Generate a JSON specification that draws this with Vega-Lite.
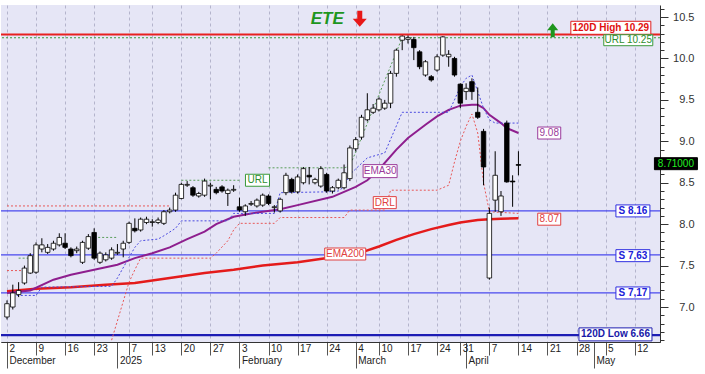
{
"$schema":"https://vega.github.io/schema/vega-lite/v6.json",
"width":659,"height":337,
"autosize":{"type":"none"},
"padding":{"left":1,"top":5,"right":45,"bottom":32},
"background":"#ffffff",
"config":{"view":{"stroke":null,"fill":"#E6E6F6"},"font":"Liberation Sans"},
"datasets":{
"candles":[
{"d":"2024-12-02","i":0,"o":6.88,"h":7.08,"l":6.85,"c":7.04},
{"d":"2024-12-03","i":1,"o":7.00,"h":7.27,"l":6.97,"c":7.17},
{"d":"2024-12-04","i":2,"o":7.15,"h":7.30,"l":7.12,"c":7.20},
{"d":"2024-12-05","i":3,"o":7.29,"h":7.50,"l":7.27,"c":7.47},
{"d":"2024-12-06","i":4,"o":7.41,"h":7.65,"l":7.40,"c":7.62},
{"d":"2024-12-09","i":5,"o":7.42,"h":7.78,"l":7.40,"c":7.75},
{"d":"2024-12-10","i":6,"o":7.70,"h":7.83,"l":7.66,"c":7.75},
{"d":"2024-12-11","i":7,"o":7.66,"h":7.76,"l":7.64,"c":7.72},
{"d":"2024-12-12","i":8,"o":7.70,"h":7.80,"l":7.68,"c":7.77},
{"d":"2024-12-13","i":9,"o":7.75,"h":7.89,"l":7.73,"c":7.84},
{"d":"2024-12-16","i":10,"o":7.77,"h":7.89,"l":7.70,"c":7.72},
{"d":"2024-12-17","i":11,"o":7.70,"h":7.72,"l":7.60,"c":7.62},
{"d":"2024-12-18","i":12,"o":7.68,"h":7.73,"l":7.65,"c":7.70},
{"d":"2024-12-19","i":13,"o":7.54,"h":7.80,"l":7.52,"c":7.78},
{"d":"2024-12-20","i":14,"o":7.71,"h":7.88,"l":7.69,"c":7.85},
{"d":"2024-12-23","i":15,"o":7.90,"h":7.95,"l":7.57,"c":7.59},
{"d":"2024-12-24","i":16,"o":7.54,"h":7.67,"l":7.52,"c":7.65},
{"d":"2024-12-27","i":17,"o":7.57,"h":7.66,"l":7.55,"c":7.63},
{"d":"2024-12-30","i":18,"o":7.59,"h":7.72,"l":7.57,"c":7.69},
{"d":"2025-01-02","i":19,"o":7.65,"h":7.76,"l":7.63,"c":7.66},
{"d":"2025-01-03","i":20,"o":7.70,"h":7.80,"l":7.60,"c":7.77},
{"d":"2025-01-07","i":21,"o":7.78,"h":8.03,"l":7.76,"c":8.01},
{"d":"2025-01-08","i":22,"o":7.95,"h":8.07,"l":7.90,"c":7.92},
{"d":"2025-01-09","i":23,"o":7.93,"h":8.08,"l":7.91,"c":8.06},
{"d":"2025-01-10","i":24,"o":8.02,"h":8.09,"l":8.00,"c":8.06},
{"d":"2025-01-13","i":25,"o":8.02,"h":8.06,"l":7.97,"c":8.03},
{"d":"2025-01-14","i":26,"o":8.02,"h":8.08,"l":8.00,"c":8.05},
{"d":"2025-01-15","i":27,"o":8.01,"h":8.17,"l":7.99,"c":8.15},
{"d":"2025-01-16","i":28,"o":8.15,"h":8.20,"l":8.13,"c":8.17},
{"d":"2025-01-17","i":29,"o":8.17,"h":8.38,"l":8.15,"c":8.35},
{"d":"2025-01-20","i":30,"o":8.31,"h":8.50,"l":8.30,"c":8.48},
{"d":"2025-01-21","i":31,"o":8.47,"h":8.52,"l":8.45,"c":8.48},
{"d":"2025-01-22","i":32,"o":8.44,"h":8.46,"l":8.33,"c":8.35},
{"d":"2025-01-23","i":33,"o":8.34,"h":8.39,"l":8.32,"c":8.37},
{"d":"2025-01-24","i":34,"o":8.35,"h":8.55,"l":8.33,"c":8.52},
{"d":"2025-01-27","i":35,"o":8.46,"h":8.50,"l":8.30,"c":8.47},
{"d":"2025-01-28","i":36,"o":8.42,"h":8.45,"l":8.36,"c":8.38},
{"d":"2025-01-29","i":37,"o":8.45,"h":8.47,"l":8.38,"c":8.40},
{"d":"2025-01-30","i":38,"o":8.37,"h":8.43,"l":8.22,"c":8.41},
{"d":"2025-01-31","i":39,"o":8.41,"h":8.47,"l":8.39,"c":8.42},
{"d":"2025-02-03","i":40,"o":8.21,"h":8.32,"l":8.15,"c":8.17},
{"d":"2025-02-04","i":41,"o":8.15,"h":8.24,"l":8.10,"c":8.22},
{"d":"2025-02-05","i":42,"o":8.24,"h":8.28,"l":8.22,"c":8.25},
{"d":"2025-02-06","i":43,"o":8.22,"h":8.31,"l":8.20,"c":8.29},
{"d":"2025-02-07","i":44,"o":8.23,"h":8.37,"l":8.21,"c":8.35},
{"d":"2025-02-10","i":45,"o":8.34,"h":8.36,"l":8.23,"c":8.25},
{"d":"2025-02-11","i":46,"o":8.20,"h":8.23,"l":8.14,"c":8.21},
{"d":"2025-02-12","i":47,"o":8.16,"h":8.32,"l":8.14,"c":8.30},
{"d":"2025-02-13","i":48,"o":8.38,"h":8.62,"l":8.35,"c":8.59},
{"d":"2025-02-14","i":49,"o":8.54,"h":8.56,"l":8.37,"c":8.39},
{"d":"2025-02-17","i":50,"o":8.39,"h":8.60,"l":8.37,"c":8.57},
{"d":"2025-02-18","i":51,"o":8.50,"h":8.69,"l":8.48,"c":8.67},
{"d":"2025-02-19","i":52,"o":8.59,"h":8.69,"l":8.48,"c":8.57},
{"d":"2025-02-20","i":53,"o":8.50,"h":8.56,"l":8.48,"c":8.54},
{"d":"2025-02-21","i":54,"o":8.46,"h":8.70,"l":8.44,"c":8.67},
{"d":"2025-02-24","i":55,"o":8.60,"h":8.62,"l":8.38,"c":8.40},
{"d":"2025-02-25","i":56,"o":8.40,"h":8.46,"l":8.37,"c":8.44},
{"d":"2025-02-26","i":57,"o":8.44,"h":8.55,"l":8.42,"c":8.53},
{"d":"2025-02-27","i":58,"o":8.44,"h":8.72,"l":8.42,"c":8.62},
{"d":"2025-02-28","i":59,"o":8.55,"h":8.95,"l":8.52,"c":8.92},
{"d":"2025-03-04","i":60,"o":8.91,"h":9.05,"l":8.88,"c":9.02},
{"d":"2025-03-05","i":61,"o":9.05,"h":9.32,"l":9.02,"c":9.29},
{"d":"2025-03-06","i":62,"o":9.26,"h":9.58,"l":9.24,"c":9.38},
{"d":"2025-03-07","i":63,"o":9.35,"h":9.45,"l":9.33,"c":9.40},
{"d":"2025-03-10","i":64,"o":9.38,"h":9.53,"l":9.36,"c":9.51},
{"d":"2025-03-11","i":65,"o":9.40,"h":9.50,"l":9.38,"c":9.46},
{"d":"2025-03-12","i":66,"o":9.46,"h":9.85,"l":9.40,"c":9.82},
{"d":"2025-03-13","i":67,"o":9.82,"h":10.12,"l":9.78,"c":10.10},
{"d":"2025-03-14","i":68,"o":10.22,"h":10.29,"l":10.10,"c":10.27},
{"d":"2025-03-17","i":69,"o":10.23,"h":10.28,"l":10.18,"c":10.25},
{"d":"2025-03-18","i":70,"o":10.23,"h":10.26,"l":9.98,"c":10.13},
{"d":"2025-03-19","i":71,"o":10.08,"h":10.10,"l":9.87,"c":9.90},
{"d":"2025-03-20","i":72,"o":9.80,"h":9.98,"l":9.78,"c":9.96},
{"d":"2025-03-21","i":73,"o":9.78,"h":9.80,"l":9.72,"c":9.74},
{"d":"2025-03-24","i":74,"o":9.86,"h":10.05,"l":9.84,"c":10.02},
{"d":"2025-03-26","i":75,"o":10.04,"h":10.27,"l":10.02,"c":10.26},
{"d":"2025-03-27","i":76,"o":10.02,"h":10.10,"l":9.90,"c":10.05},
{"d":"2025-03-28","i":77,"o":10.00,"h":10.02,"l":9.78,"c":9.80},
{"d":"2025-03-31","i":78,"o":9.69,"h":9.70,"l":9.40,"c":9.46},
{"d":"2025-04-01","i":79,"o":9.60,"h":9.70,"l":9.50,"c":9.64},
{"d":"2025-04-02","i":80,"o":9.72,"h":9.76,"l":9.50,"c":9.60},
{"d":"2025-04-03","i":81,"o":9.35,"h":9.65,"l":9.27,"c":9.29},
{"d":"2025-04-04","i":82,"o":9.12,"h":9.15,"l":8.47,"c":8.69},
{"d":"2025-04-07","i":83,"o":7.35,"h":8.20,"l":7.33,"c":8.13},
{"d":"2025-04-08","i":84,"o":8.29,"h":8.88,"l":8.15,"c":8.59},
{"d":"2025-04-09","i":85,"o":8.15,"h":8.40,"l":8.10,"c":8.34},
{"d":"2025-04-10","i":86,"o":9.22,"h":9.25,"l":8.50,"c":8.51},
{"d":"2025-04-11","i":87,"o":8.52,"h":8.59,"l":8.21,"c":8.51},
{"d":"2025-04-14","i":88,"o":8.72,"h":8.88,"l":8.59,"c":8.71}
],
"lines":[
{"s":"ema200","g":"a","i":0,"v":7.19},{"s":"ema200","g":"a","i":5,"v":7.22},{"s":"ema200","g":"a","i":11,"v":7.24},{"s":"ema200","g":"a","i":17,"v":7.27},{"s":"ema200","g":"a","i":22,"v":7.29},{"s":"ema200","g":"a","i":28,"v":7.35},{"s":"ema200","g":"a","i":34,"v":7.41},{"s":"ema200","g":"a","i":39,"v":7.45},{"s":"ema200","g":"a","i":44,"v":7.5},{"s":"ema200","g":"a","i":50,"v":7.54},{"s":"ema200","g":"a","i":56,"v":7.6},{"s":"ema200","g":"a","i":61,"v":7.66},{"s":"ema200","g":"a","i":64,"v":7.73},{"s":"ema200","g":"a","i":67,"v":7.81},{"s":"ema200","g":"a","i":70,"v":7.88},{"s":"ema200","g":"a","i":73,"v":7.94},{"s":"ema200","g":"a","i":76,"v":7.99},{"s":"ema200","g":"a","i":78,"v":8.02},{"s":"ema200","g":"a","i":81,"v":8.05},{"s":"ema200","g":"a","i":83,"v":8.06},{"s":"ema200","g":"a","i":85,"v":8.065},{"s":"ema200","g":"a","i":88,"v":8.07},
{"s":"ema30","g":"b","i":0,"v":7.17},{"s":"ema30","g":"b","i":4,"v":7.2},{"s":"ema30","g":"b","i":8,"v":7.33},{"s":"ema30","g":"b","i":11,"v":7.39},{"s":"ema30","g":"b","i":17,"v":7.48},{"s":"ema30","g":"b","i":19,"v":7.51},{"s":"ema30","g":"b","i":22,"v":7.59},{"s":"ema30","g":"b","i":25,"v":7.65},{"s":"ema30","g":"b","i":28,"v":7.72},{"s":"ema30","g":"b","i":31,"v":7.82},{"s":"ema30","g":"b","i":34,"v":7.91},{"s":"ema30","g":"b","i":36,"v":8.0},{"s":"ema30","g":"b","i":39,"v":8.09},{"s":"ema30","g":"b","i":42,"v":8.13},{"s":"ema30","g":"b","i":47,"v":8.18},{"s":"ema30","g":"b","i":50,"v":8.23},{"s":"ema30","g":"b","i":56,"v":8.33},{"s":"ema30","g":"b","i":60,"v":8.45},{"s":"ema30","g":"b","i":62,"v":8.53},{"s":"ema30","g":"b","i":64,"v":8.66},{"s":"ema30","g":"b","i":67,"v":8.9},{"s":"ema30","g":"b","i":69,"v":9.04},{"s":"ema30","g":"b","i":72,"v":9.2},{"s":"ema30","g":"b","i":74,"v":9.3},{"s":"ema30","g":"b","i":76,"v":9.38},{"s":"ema30","g":"b","i":78,"v":9.43},{"s":"ema30","g":"b","i":80,"v":9.44},{"s":"ema30","g":"b","i":81,"v":9.44},{"s":"ema30","g":"b","i":82,"v":9.4},{"s":"ema30","g":"b","i":83,"v":9.32},{"s":"ema30","g":"b","i":85,"v":9.22},{"s":"ema30","g":"b","i":86,"v":9.16},{"s":"ema30","g":"b","i":88,"v":9.1},
{"s":"stop","g":"c","i":1,"v":7.14},{"s":"stop","g":"c","i":5,"v":7.14},{"s":"stop","g":"c","i":6,"v":7.24},{"s":"stop","g":"c","i":18,"v":7.25},{"s":"stop","g":"c","i":19,"v":7.35},{"s":"stop","g":"c","i":21,"v":7.6},{"s":"stop","g":"c","i":22,"v":7.72},{"s":"stop","g":"c","i":23,"v":7.8},{"s":"stop","g":"c","i":26,"v":7.82},{"s":"stop","g":"c","i":27,"v":7.86},{"s":"stop","g":"c","i":29,"v":7.95},{"s":"stop","g":"c","i":30,"v":8.04},{"s":"stop","g":"c","i":38,"v":8.04},{"s":"stop","g":"c","i":39,"v":8.13},{"s":"stop","g":"c","i":46,"v":8.13},{"s":"stop","g":"c","i":47,"v":8.38},{"s":"stop","g":"c","i":55,"v":8.39},{"s":"stop","g":"c","i":57,"v":8.4},{"s":"stop","g":"c","i":58,"v":8.45},{"s":"stop","g":"c","i":59,"v":8.6},{"s":"stop","g":"c","i":62,"v":8.8},{"s":"stop","g":"c","i":65,"v":8.86},{"s":"stop","g":"c","i":68,"v":9.35},{"s":"stop","g":"c","i":76,"v":9.35},{"s":"stop","g":"c","i":77,"v":9.5},{"s":"stop","g":"c","i":78,"v":9.66},{"s":"stop","g":"c","i":79,"v":9.76},{"s":"stop","g":"c","i":80,"v":9.8},{"s":"stop","g":"c","i":81,"v":9.6},{"s":"stop","g":"c","i":82,"v":9.4},{"s":"stop","g":"c","i":83,"v":9.26},{"s":"stop","g":"c","i":84,"v":9.22},{"s":"stop","g":"c","i":88,"v":9.22},
{"s":"drl","g":"d1","i":18,"v":6.6},{"s":"drl","g":"d1","i":21,"v":7.3},{"s":"drl","g":"d1","i":22,"v":7.45},{"s":"drl","g":"d1","i":23,"v":7.59},{"s":"drl","g":"d1","i":35,"v":7.59},{"s":"drl","g":"d1","i":36,"v":7.65},{"s":"drl","g":"d1","i":38,"v":7.8},{"s":"drl","g":"d1","i":39,"v":7.93},{"s":"drl","g":"d1","i":40,"v":8.01},{"s":"drl","g":"d1","i":46,"v":8.01},{"s":"drl","g":"d1","i":47,"v":8.08},{"s":"drl","g":"d1","i":58,"v":8.08},{"s":"drl","g":"d1","i":59,"v":8.17},{"s":"drl","g":"d1","i":65,"v":8.17},{"s":"drl","g":"d1","i":66,"v":8.41},{"s":"drl","g":"d1","i":74,"v":8.41},{"s":"drl","g":"d1","i":76,"v":8.47},{"s":"drl","g":"d1","i":77,"v":8.75},{"s":"drl","g":"d1","i":78,"v":9.0},{"s":"drl","g":"d1","i":79,"v":9.18},{"s":"drl","g":"d1","i":80,"v":9.33},{"s":"drl","g":"d1","i":81,"v":9.1},{"s":"drl","g":"d1","i":82,"v":8.5},{"s":"drl","g":"d1","i":83,"v":8.15},{"s":"drl","g":"d1","i":88,"v":8.13},
{"s":"drl","g":"d2","i":0,"v":8.22},{"s":"drl","g":"d2","i":28,"v":8.22},
{"s":"drl","g":"d3","i":0,"v":7.44},{"s":"drl","g":"d3","i":3,"v":7.44},
{"s":"url","g":"u1","i":2,"v":7.59},{"s":"url","g":"u1","i":5,"v":7.59},
{"s":"url","g":"u2","i":15,"v":7.84},{"s":"url","g":"u2","i":19,"v":7.84},
{"s":"url","g":"u3","i":30,"v":8.53},{"s":"url","g":"u3","i":40,"v":8.53},
{"s":"url","g":"u4","i":45,"v":8.68},{"s":"url","g":"u4","i":58,"v":8.68},{"s":"url","g":"u4","i":59,"v":8.7},{"s":"url","g":"u4","i":68,"v":10.25}
],
"hl":[{"k":"high","v":10.29},{"k":"url","v":10.25},{"k":"s","v":8.16},{"k":"s","v":7.63},{"k":"s","v":7.17},{"k":"low","v":6.66}],
"ann":[
{"t":"120D High 10.29","i":103.9,"v":10.37},
{"t":"URL 10.25","i":106.9,"v":10.22},
{"t":"S 8.16","i":107.7,"v":8.16},
{"t":"S 7,63","i":107.7,"v":7.62},
{"t":"S 7,17","i":107.7,"v":7.17},
{"t":"120D Low 6.66","i":104.7,"v":6.67},
{"t":"9.08","i":93.3,"v":9.1},
{"t":"8.07","i":93.3,"v":8.06},
{"t":"EMA30","i":64.2,"v":8.64},
{"t":"DRL","i":65.0,"v":8.26},
{"t":"EMA200","i":58.2,"v":7.64},
{"t":"URL","i":43.1,"v":8.53},
{"t":"8.71000","i":115.1,"v":8.73}
],
"title":[{"t":"ETE","i":55.1,"v":10.48}],
"arrows":[{"t":"down","i":60.7,"v":10.48},{"t":"up","i":93.9,"v":10.34}]
},
"resolve":{"axis":{"x":"independent","y":"independent"}},
"layer":[
{"data":{"name":"hl"},"transform":[{"filter":"datum.k=='s'"}],"mark":{"type":"rule","color":"#4848EE","strokeWidth":1.2},
 "encoding":{"y":{"field":"v","type":"quantitative","scale":{"domain":[6.578,10.645],"nice":false,"zero":false},"axis":null}}},
{"data":{"name":"hl"},"transform":[{"filter":"datum.k=='low'"}],"mark":{"type":"rule","color":"#1C1CB4","strokeWidth":2.2},
 "encoding":{"y":{"field":"v","type":"quantitative","axis":null}}},
{"data":{"name":"hl"},"transform":[{"filter":"datum.k=='url'"}],"mark":{"type":"rule","color":"#3C9C3C","strokeWidth":1.2,"strokeDash":[2,2]},
 "encoding":{"y":{"field":"v","type":"quantitative","axis":null}}},
{"data":{"name":"lines"},"transform":[{"filter":"datum.s=='ema200'"}],"mark":{"type":"line","color":"#E41B1B","strokeWidth":2.5,"clip":true},
 "encoding":{"x":{"field":"i","type":"quantitative","axis":null},"y":{"field":"v","type":"quantitative","axis":null},"detail":{"field":"g"}}},
{"data":{"name":"lines"},"transform":[{"filter":"datum.s=='ema30'"}],"mark":{"type":"line","color":"#8E1E8E","strokeWidth":2,"clip":true},
 "encoding":{"x":{"field":"i","type":"quantitative","axis":null},"y":{"field":"v","type":"quantitative","axis":null},"detail":{"field":"g"}}},
{"data":{"name":"lines"},"transform":[{"filter":"datum.s=='stop'"}],"mark":{"type":"line","color":"#4A4AE0","strokeWidth":1,"strokeDash":[2,2],"clip":true},
 "encoding":{"x":{"field":"i","type":"quantitative","axis":null},"y":{"field":"v","type":"quantitative","axis":null},"detail":{"field":"g"}}},
{"data":{"name":"lines"},"transform":[{"filter":"datum.s=='drl'"}],"mark":{"type":"line","color":"#E85858","strokeWidth":1,"strokeDash":[2,2],"clip":true},
 "encoding":{"x":{"field":"i","type":"quantitative","axis":null},"y":{"field":"v","type":"quantitative","axis":null},"detail":{"field":"g"}}},
{"data":{"name":"lines"},"transform":[{"filter":"datum.s=='url'"}],"mark":{"type":"line","color":"#5A9E5A","strokeWidth":1,"strokeDash":[2,2],"clip":true},
 "encoding":{"x":{"field":"i","type":"quantitative","axis":null},"y":{"field":"v","type":"quantitative","axis":null},"detail":{"field":"g"}}},
{"data":{"name":"candles"},"mark":{"type":"rule","color":"#000000","strokeWidth":1,"clip":true},
 "encoding":{
  "x":{"field":"i","type":"quantitative","scale":{"domain":[-0.17,111.5],"nice":false,"zero":false},
   "axis":{"orient":"bottom","values":[0,19,40,60,79,101],"labelExpr":"['December','2025','February','March','April','May'][indexof([0,19,40,60,79,101], datum.value)]","title":null,"grid":false,"tickSize":26,"tickColor":"#555555","domainColor":"#333333","labelAlign":"left","labelBaseline":"top","labelPadding":-13,"labelOffset":2,"labelFontSize":10,"labelColor":"#222222","labelFlush":false,"labelOverlap":false}},
  "y":{"field":"l","type":"quantitative","axis":{"orient":"right","values":[6.6,6.7,6.8,6.9,7.0,7.1,7.2,7.3,7.4,7.5,7.6,7.7,7.8,7.9,8.0,8.1,8.2,8.3,8.4,8.5,8.6,8.7,8.8,8.9,9.0,9.1,9.2,9.3,9.4,9.5,9.6,9.7,9.8,9.9,10.0,10.1,10.2,10.3,10.4,10.5,10.6],"labels":false,"domain":false,"grid":false,"tickSize":4,"tickColor":"#333333","title":null}},
  "y2":{"field":"h"}}},
{"data":{"name":"candles"},"mark":{"type":"bar","size":4.5,"stroke":"#000000","strokeWidth":0.8,"clip":true},
 "encoding":{
  "x":{"field":"i","type":"quantitative",
   "axis":{"orient":"bottom","values":[0,5,10,15,21,25,30,35,40,45,50,55,60,64,69,74,78,83,88,93,98,103,108],"labelExpr":"['2','9','16','23','7','13','20','27','3','10','17','24','4','10','17','24','31','7','14','21','28','5','12'][indexof([0,5,10,15,21,25,30,35,40,45,50,55,60,64,69,74,78,83,88,93,98,103,108], datum.value)]","title":null,"grid":true,"gridDash":[3,3],"gridColor":"#B4B4CC","tickSize":13,"tickColor":"#555555","domainColor":"#333333","labelAlign":"left","labelBaseline":"top","labelPadding":-12,"labelOffset":2,"labelFontSize":10,"labelColor":"#222222","labelFlush":false,"labelOverlap":false}},
  "y":{"field":"o","type":"quantitative","axis":{"orient":"right","values":[7.0,7.5,8.0,8.5,9.0,9.5,10.0,10.5],"format":".1f","title":null,"grid":false,"tickSize":8,"tickColor":"#333333","domainColor":"#333333","labelAlign":"right","labelPadding":26,"labelBaseline":"middle","labelFontSize":11,"labelColor":"#333333","labelFlush":false,"labelOverlap":false}},
  "y2":{"field":"c"},
  "fill":{"condition":{"test":"datum.c >= datum.o","value":"#ffffff"},"value":"#000000"}}},
{"data":{"name":"hl"},"transform":[{"filter":"datum.k=='high'"}],"mark":{"type":"rule","color":"#E82020","strokeWidth":2},
 "encoding":{"y":{"field":"v","type":"quantitative","axis":null}}},
{"data":{"name":"ann"},"mark":{"type":"point","size":4,"strokeWidth":1,"opacity":1,"fillOpacity":1,"filled":false},
 "encoding":{
  "x":{"field":"i","type":"quantitative","axis":null},
  "y":{"field":"v","type":"quantitative","axis":null},
  "shape":{"field":"t","type":"nominal","legend":null,"scale":{"domain":["120D High 10.29","URL 10.25","S 8.16","S 7,63","S 7,17","120D Low 6.66","9.08","8.07","EMA30","DRL","EMA200","URL","8.71000"],"range":["M-40,-6.5H40V6.5H-40Z","M-24.5,-5.5H24.5V5.5H-24.5Z","M-17,-6H17V6H-17Z","M-17,-6H17V6H-17Z","M-17,-6H17V6H-17Z","M-36.5,-6.5H36.5V6.5H-36.5Z","M-11.5,-6H11.5V6H-11.5Z","M-11.5,-6H11.5V6H-11.5Z","M-17,-6.5H17V6.5H-17Z","M-11.5,-6H11.5V6H-11.5Z","M-20.5,-6H20.5V6H-20.5Z","M-12,-6H12V6H-12Z","M-21.5,-6H21.5V6H-21.5Z"]}},
  "fill":{"field":"t","type":"nominal","legend":null,"scale":{"domain":["120D High 10.29","URL 10.25","S 8.16","S 7,63","S 7,17","120D Low 6.66","9.08","8.07","EMA30","DRL","EMA200","URL","8.71000"],"range":["#ffffff","#ffffff","#ffffff","#ffffff","#ffffff","#ffffff","#ffffff","#ffffff","#ffffff","#ffffff","#ffffff","#ffffff","#000000"]}},
  "stroke":{"field":"t","type":"nominal","legend":null,"scale":{"domain":["120D High 10.29","URL 10.25","S 8.16","S 7,63","S 7,17","120D Low 6.66","9.08","8.07","EMA30","DRL","EMA200","URL","8.71000"],"range":["#E01E1E","#3A9A3A","#3030E0","#3030E0","#3030E0","#2020B0","#9A3A9A","#E04040","#9A3A9A","#E04040","#E04040","#3A9A3A","#000000"]}}}},
{"data":{"name":"ann"},"transform":[{"filter":"indexof(['120D High 10.29','S 8.16','S 7,63','S 7,17','120D Low 6.66'], datum.t) >= 0"}],
 "mark":{"type":"text","fontSize":10,"fontWeight":"bold","align":"center","baseline":"middle"},
 "encoding":{
  "x":{"field":"i","type":"quantitative","axis":null},
  "y":{"field":"v","type":"quantitative","axis":null},
  "text":{"field":"t"},
  "color":{"field":"t","type":"nominal","legend":null,"scale":{"domain":["120D High 10.29","URL 10.25","S 8.16","S 7,63","S 7,17","120D Low 6.66","9.08","8.07","EMA30","DRL","EMA200","URL","8.71000"],"range":["#E01010","#2E8E2E","#2020D8","#2020D8","#2020D8","#1818A8","#9A3A9A","#E04040","#9A3A9A","#E04040","#E04040","#2E8E2E","#22EE22"]}}}},
{"data":{"name":"ann"},"transform":[{"filter":"indexof(['120D High 10.29','S 8.16','S 7,63','S 7,17','120D Low 6.66'], datum.t) < 0"}],
 "mark":{"type":"text","fontSize":10,"align":"center","baseline":"middle"},
 "encoding":{
  "x":{"field":"i","type":"quantitative","axis":null},
  "y":{"field":"v","type":"quantitative","axis":null},
  "text":{"field":"t"},
  "color":{"field":"t","type":"nominal","legend":null}}},
{"data":{"name":"title"},"mark":{"type":"text","fontSize":17,"fontWeight":"bold","fontStyle":"italic","color":"#1E961E","align":"center","baseline":"middle"},
 "encoding":{"x":{"field":"i","type":"quantitative","axis":null},"y":{"field":"v","type":"quantitative","axis":null},"text":{"field":"t"}}},
{"data":{"name":"arrows"},"transform":[{"filter":"datum.t=='down'"}],"mark":{"type":"point","shape":"M-2.5,-8H2.5V0H7L0,8L-7,0H-2.5Z","size":4,"filled":true,"color":"#E81818","opacity":1},
 "encoding":{"x":{"field":"i","type":"quantitative","axis":null},"y":{"field":"v","type":"quantitative","axis":null}}},
{"data":{"name":"arrows"},"transform":[{"filter":"datum.t=='up'"}],"mark":{"type":"point","shape":"M-2,7H2V0H5.5L0,-7L-5.5,0H-2Z","size":4,"filled":true,"color":"#1E961E","opacity":1},
 "encoding":{"x":{"field":"i","type":"quantitative","axis":null},"y":{"field":"v","type":"quantitative","axis":null}}}
]
}
